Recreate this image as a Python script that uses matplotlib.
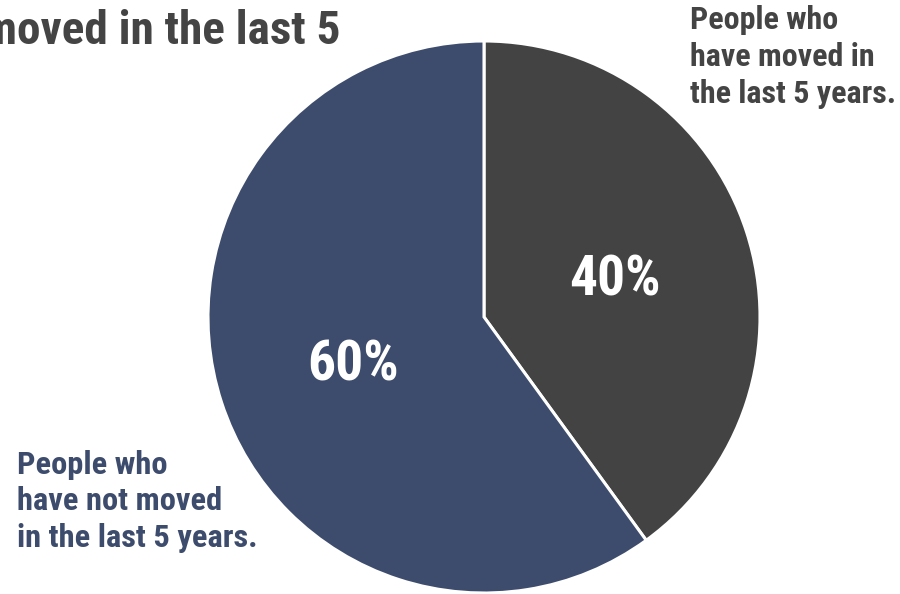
import matplotlib.pyplot as plt

# data
labels = ["People who\nhave moved in\nthe last 5 years.", "People who\nhave not moved\nin the last 5 years."]
values = [40, 60]
colors = ["#434343", "#3D4C6C"]
title = "moved in the last 5"

plt.rcParams['font.family'] = ['Roboto Condensed', 'Roboto', 'DejaVu Sans']
plt.rcParams['font.weight'] = 'bold'

fig = plt.figure(figsize=(9, 5.94), dpi=100)
W, H = 900, 594
cx, cy, r = 484, 317, 276
ax = fig.add_axes([(cx - r) / W, (H - cy - r) / H, 2 * r / W, 2 * r / H])

wedges, texts, autotexts = ax.pie(values, colors=colors, startangle=90, counterclock=False,
                                  autopct='%d%%', pctdistance=0.5,
                                  wedgeprops=dict(edgecolor='white', linewidth=2.2))
for t in autotexts:
    t.set_color('white')
    t.set_fontsize(40)
    t.set_fontweight('bold')
    x, y = t.get_position()
    t.set_position((x, y - 0.022))
ax.set_xlim(-1, 1)
ax.set_ylim(-1, 1)
ax.set_aspect('equal')
ax.axis('off')

# title, clipped on the left like the original
fig.text(340 / W, 1 - 31 / H, title, ha='right', va='center', fontsize=34,
         fontweight='bold', color='#444444')

# slice labels
fig.text(690 / W, 1 - 5 / H, labels[0], ha='left', va='top', fontsize=23,
         fontweight='bold', color='#444444', linespacing=1.3)
fig.text(17 / W, 1 - 450 / H, labels[1], ha='left', va='top', fontsize=23.4,
         fontweight='bold', color=colors[1], linespacing=1.27)

plt.savefig('out.png', dpi=100)
